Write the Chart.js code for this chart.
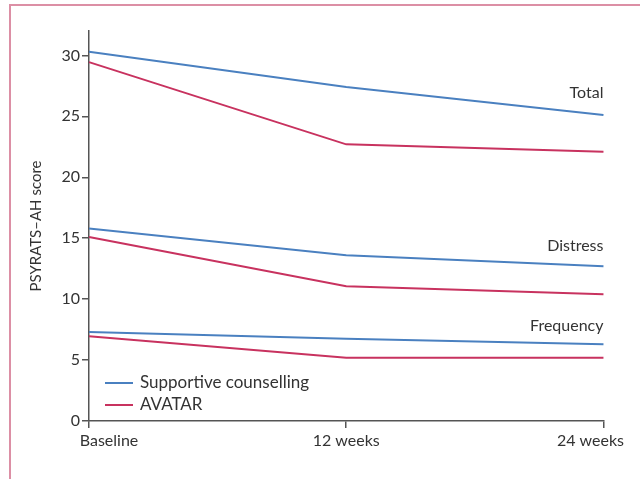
<!DOCTYPE html>
<html>
<head>
<meta charset="utf-8">
<script src="https://cdn.jsdelivr.net/npm/chart.js@4.4.1/dist/chart.umd.min.js"></script>
<style>
  body { margin: 0; background: #fff; overflow: hidden; }
  .frame {
    position: absolute; left: 9px; top: 4px; width: 700px; height: 600px;
    border-left: 2px solid #dc8fa5; border-top: 2px solid #dc8fa5;
  }
  #myChart { position: absolute; left: 0; top: 0; }
</style>
</head>
<body>
<div class="frame"></div>
<canvas id="myChart" width="640" height="479"></canvas>
<script>
const timepoints = ["Baseline", "12 weeks", "24 weeks"];

const supportiveTotal = [30.3, 27.4, 25.1];
const avatarTotal = [29.45, 22.7, 22.1];
const supportiveDistress = [15.8, 13.6, 12.7];
const avatarDistress = [15.1, 11.05, 10.4];
const supportiveFrequency = [7.3, 6.75, 6.3];
const avatarFrequency = [6.95, 5.2, 5.2];

const groupLabels = ["Total", "Distress", "Frequency"];
const groupLabelValues = [26.9, 14.4, 7.8];

const legendNames = ["Supportive counselling", "AVATAR"];
const yTicks = [0, 5, 10, 15, 20, 25, 30];

const blue = "#4a80c0";
const red = "#c8325f";
const textColor = "#333";
const axisColor = "#555";

Chart.defaults.font.family = "Lato";

function line(data, color) {
  return {
    data: data,
    borderColor: color,
    borderWidth: 2,
    pointRadius: 0,
    tension: 0,
    fill: false,
  };
}

// labels, legend and shifted x tick labels
const overlay = {
  id: "overlay",
  afterDraw(chart) {
    const ctx = chart.ctx;
    const x = chart.scales.x;
    const y = chart.scales.y;
    const area = chart.chartArea;
    ctx.save();
    ctx.fillStyle = textColor;
    ctx.font = "16px Lato";
    ctx.textBaseline = "middle";

    // x tick labels
    const shifts = [20, 0, -13];
    timepoints.forEach((t, i) => {
      ctx.textAlign = "center";
      ctx.fillText(t, x.getPixelForValue(i) + shifts[i], 441);
    });

    // group labels on the right
    ctx.textAlign = "right";
    groupLabels.forEach((g, i) => {
      ctx.fillText(g, area.right, y.getPixelForValue(groupLabelValues[i]));
    });

    // legend
    const colors = [blue, red];
    ctx.textAlign = "left";
    ctx.font = "17px Lato";
    legendNames.forEach((name, i) => {
      const ly = area.bottom - 38 + i * 22;
      ctx.strokeStyle = colors[i];
      ctx.lineWidth = 2;
      ctx.beginPath();
      ctx.moveTo(area.left + 16, ly);
      ctx.lineTo(area.left + 44, ly);
      ctx.stroke();
      ctx.fillText(name, area.left + 51, ly);
    });
    ctx.restore();
  },
};

const ctx = document.getElementById("myChart");

new Chart(ctx, {
  type: "line",
  data: {
    labels: timepoints,
    datasets: [
      line(supportiveTotal, blue),
      line(avatarTotal, red),
      line(supportiveDistress, blue),
      line(avatarDistress, red),
      line(supportiveFrequency, blue),
      line(avatarFrequency, red),
    ],
  },
  options: {
    responsive: false,
    animation: false,
    layout: {
      padding: { left: 0, right: 35, top: 31, bottom: 0 },
    },
    plugins: {
      legend: { display: false },
      tooltip: { enabled: false },
    },
    scales: {
      x: {
        offset: false,
        border: { display: true, color: axisColor, width: 1.5 },
        grid: {
          drawOnChartArea: false,
          drawTicks: true,
          tickLength: 7,
          color: axisColor,
          lineWidth: 1.5,
        },
        ticks: { color: "rgba(0,0,0,0)", font: { size: 16 } },
        afterFit(scale) {
          scale.height = 58;
        },
      },
      y: {
        min: 0,
        max: 32,
        border: { display: true, color: axisColor, width: 1.5 },
        grid: {
          drawOnChartArea: false,
          drawTicks: true,
          tickLength: 7,
          color: axisColor,
          lineWidth: 1.5,
        },
        ticks: {
          color: textColor,
          font: { size: 16 },
          padding: 2,
        },
        afterBuildTicks(scale) {
          scale.ticks = yTicks.map((v) => ({ value: v }));
        },
        title: {
          display: true,
          text: "PSYRATS–AH score",
          color: textColor,
          font: { size: 15 },
          padding: { top: 27, bottom: 0 },
        },
        afterFit(scale) {
          scale.width = 89;
        },
      },
    },
  },
  plugins: [overlay],
});
</script>
</body>
</html>
